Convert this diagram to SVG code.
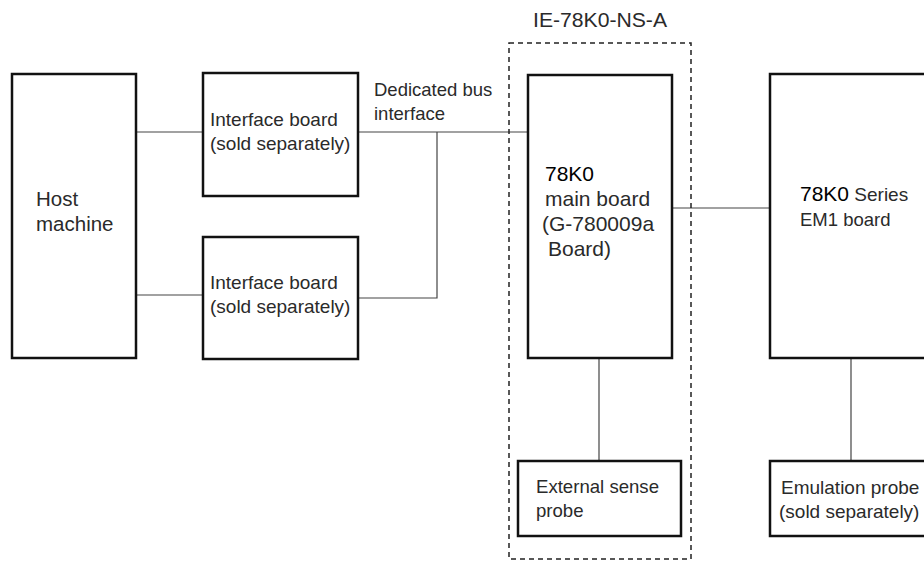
<svg xmlns="http://www.w3.org/2000/svg" width="924" height="561" viewBox="0 0 924 561">
<style>
.box{fill:#fff;stroke:#111;stroke-width:2.5}
.ln{fill:none;stroke:#444;stroke-width:1.2}
.dash{fill:none;stroke:#222;stroke-width:1.5;stroke-dasharray:5 4}
text{font-family:"Liberation Sans",Arial,sans-serif;font-size:19px;fill:#2a2a2a}
.k{fill:#000}
.big{font-size:21px}
</style>
<rect width="924" height="561" fill="#fff"/>
<g id="connectors">
<line class="ln" x1="136" y1="132" x2="203" y2="132"/>
<line class="ln" x1="136" y1="295" x2="203" y2="295"/>
<line class="ln" x1="358" y1="132" x2="528" y2="132"/>
<polyline class="ln" points="358,298 437,298 437,132"/>
<line class="ln" x1="672" y1="208" x2="770" y2="208"/>
<line class="ln" x1="599" y1="358" x2="599" y2="461"/>
<line class="ln" x1="851" y1="358" x2="851" y2="461"/>
</g>
<g id="ie-group">
<rect class="dash" x="509" y="43" width="182" height="516"/>
<text x="533" y="27" style="font-size:20px" textLength="134" lengthAdjust="spacingAndGlyphs">IE-78K0-NS-A</text>
</g>
<g id="bus-label"><text x="374" y="96" style="font-size:18.5px">Dedicated bus</text><text x="374" y="120" style="font-size:18.5px">interface</text></g>
<g id="host"><rect class="box" x="12" y="74" width="124" height="284"/><text x="36" y="206" style="font-size:20.5px">Host</text><text x="36" y="231" style="font-size:20.5px">machine</text></g>
<g id="ib1"><rect class="box" x="203" y="73" width="155" height="123"/><text x="210" y="126">Interface board</text><text x="210" y="150">(sold separately)</text></g>
<g id="ib2"><rect class="box" x="203" y="237" width="155" height="122"/><text x="210" y="289">Interface board</text><text x="210" y="313">(sold separately)</text></g>
<g id="main"><rect class="box" x="528" y="75" width="144" height="283"/><text x="545" y="181" class="k big">78K0</text><text x="545" y="206" class="big">main board</text><text x="542" y="231" class="big">(G-780009a</text><text x="548" y="256" class="big">Board)</text></g>
<g id="esp"><rect class="box" x="518" y="461" width="163" height="75"/><text x="536" y="493" style="font-size:18.6px">External sense</text><text x="536" y="517" style="font-size:18.6px">probe</text></g>
<g id="em1"><rect class="box" x="770" y="74" width="170" height="284"/><text x="800" y="201"><tspan class="k big">78K0</tspan> Series</text><text x="800" y="226" style="font-size:18.5px">EM1 board</text></g>
<g id="emu"><rect class="box" x="770" y="461" width="170" height="75"/><text x="781" y="494">Emulation probe</text><text x="779" y="518">(sold separately)</text></g>
</svg>
